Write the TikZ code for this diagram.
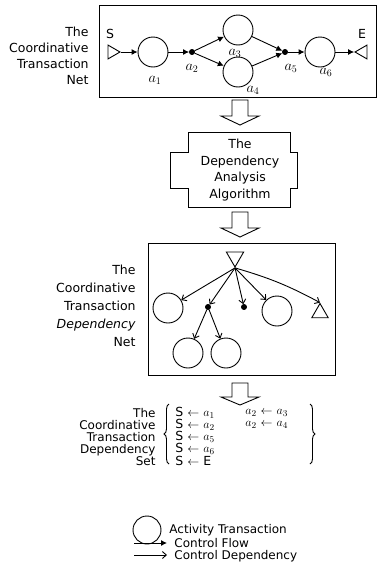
\documentclass[tikz,border=0pt]{standalone}
\usepackage{fontspec}
\setmainfont{DejaVu Sans}
\usetikzlibrary{shapes.geometric,arrows.meta,decorations.pathreplacing}
\newcommand\actname[1]{{\fontsize{14.5}{14.5}\selectfont$a_{#1}$}}

\begin{document}
\begin{tikzpicture}[x=1pt,y=-1pt,line width=0.9pt,
    every node/.style={font=\fontsize{12.5}{14}\selectfont},
    act/.style={draw,circle,minimum size=30pt,inner sep=0pt},
    junc/.style={draw,circle,fill,minimum size=5pt,inner sep=0pt},
    tri/.style={draw,regular polygon,regular polygon sides=3,inner sep=0pt},
    lbl/.style={align=right,anchor=east,inner sep=0pt},
    txt/.style={anchor=west,inner sep=0pt,font=\fontsize{12}{13}\selectfont},
    setrow/.style={anchor=west,inner sep=0pt,font=\fontsize{12.5}{13}\selectfont},
    flow/.style={-{Latex[length=6pt,width=6pt]}},
    dep/.style={-{Straight Barb[length=4pt,width=7pt]}},
  ]
\useasboundingbox (0,0) rectangle (378,584);

% the coordinative transaction net
\draw (99,5) rectangle (376,97);
\node[lbl,font=\fontsize{12.5}{16}\selectfont] (netlbl) at (89,56) {The\\Coordinative\\Transaction\\Net};

\node[tri,minimum size=16pt,regular polygon rotate=-90] (S) at (112,52) {};
\node[act] (a1) at (153,52) {};
\node[junc] (a2) at (192,52) {};
\node[act] (a3) at (238,30) {};
\node[act] (a4) at (238,72) {};
\node[junc] (a5) at (285,52) {};
\node[act] (a6) at (320,52) {};
\node[tri,minimum size=16pt,regular polygon rotate=90] (E) at (363,52) {};

\node (Slbl) at (110,34) {S};
\node (Elbl) at (362,34) {E};
\node (a1lbl) at (155,80) {\actname{1}};
\node (a2lbl) at (192,68) {\actname{2}};
\node (a3lbl) at (235,53) {\actname{3}};
\node (a4lbl) at (253,90) {\actname{4}};
\node (a5lbl) at (291,68) {\actname{5}};
\node (a6lbl) at (326,72) {\actname{6}};

\draw[flow] (S) -- (a1);
\draw[flow] (a1) -- (a2);
\draw[flow] (a2) -- (a3);
\draw[flow] (a2) -- (a4);
\draw[flow] (a3) -- (a5);
\draw[flow] (a4) -- (a5);
\draw[flow] (a5) -- (a6);
\draw[flow] (a6) -- (E);

% block arrows
\foreach \ya/\yb/\yc in {100/116/125, 212/228/237, 383/397/405}
  \draw (232,\ya) -- (248,\ya) -- (248,\yb) -- (259,\yb) -- (240,\yc)
    -- (221,\yb) -- (232,\yb) -- cycle;

% the algorithm
\draw (188,132) -- (290,132) -- (290,152) -- (297,152) -- (297,188)
  -- (290,188) -- (290,207) -- (188,207) -- (188,188) -- (170,188)
  -- (170,152) -- (188,152) -- cycle;
\node[align=center,font=\fontsize{12.5}{16.5}\selectfont] (algo) at (240,170)
  {The\\Dependency\\Analysis\\Algorithm};

% the dependency net
\draw (148,243) rectangle (335,375);
\node[lbl,font=\fontsize{12.5}{18}\selectfont] (deplbl) at (136,306)
  {The\\Coordinative\\Transaction\\\textit{Dependency}\\Net};

\node[tri,minimum size=20pt,regular polygon rotate=180] (T) at (235,257) {};
\node[act] (c1) at (168,308) {};
\node[junc] (d1) at (208,307) {};
\node[junc] (d2) at (244,307) {};
\node[act] (c2) at (277,311) {};
\node[tri,minimum size=19pt] (T2) at (320,313) {};
\node[act] (c3) at (188,353) {};
\node[act] (c4) at (226,353) {};

\draw[dep] (T.corner 1) -- (c1);
\draw[dep] (T.corner 1) -- (d1);
\draw[dep] (T.corner 1) -- (d2);
\draw[dep] (T.corner 1) -- (c2);
\draw[dep] (T.corner 1) to[bend left=6] (T2.corner 1);
\draw[dep] (d1) -- (c3);
\draw[dep] (d1) -- (c4);

% the dependency set
\node[lbl,font=\fontsize{12}{12.2}\selectfont] (setlbl) at (156,437)
  {The\\Coordinative\\Transaction\\Dependency\\Set};
\draw[decorate,decoration={brace,amplitude=5pt}] (169,464) -- (169,404);
\draw[decorate,decoration={brace,amplitude=5pt}] (310,404) -- (310,464);
\foreach \rhs [count=\i] in {$a_1$,$a_2$,$a_5$,$a_6$,E}
  \node[setrow] (row\i) at (175,401+12*\i) {S $\leftarrow$ \rhs};
\node[setrow] (row6) at (245,413) {$a_2$ $\leftarrow$ $a_3$};
\node[setrow] (row7) at (245,425) {$a_2$ $\leftarrow$ $a_4$};

% legend
\node[act,minimum size=28pt] (legc) at (147,530) {};
\node[txt] (legact) at (169,530) {Activity Transaction};
\coordinate (f1) at (134,543);
\coordinate (f2) at (167,543);
\draw[flow] (f1) -- (f2);
\node[txt] (legflow) at (174,543) {Control Flow};
\coordinate (g1) at (134,555);
\coordinate (g2) at (167,555);
\draw[dep] (g1) -- (g2);
\node[txt] (legdep) at (174,556) {Control Dependency};
\end{tikzpicture}
\end{document}
